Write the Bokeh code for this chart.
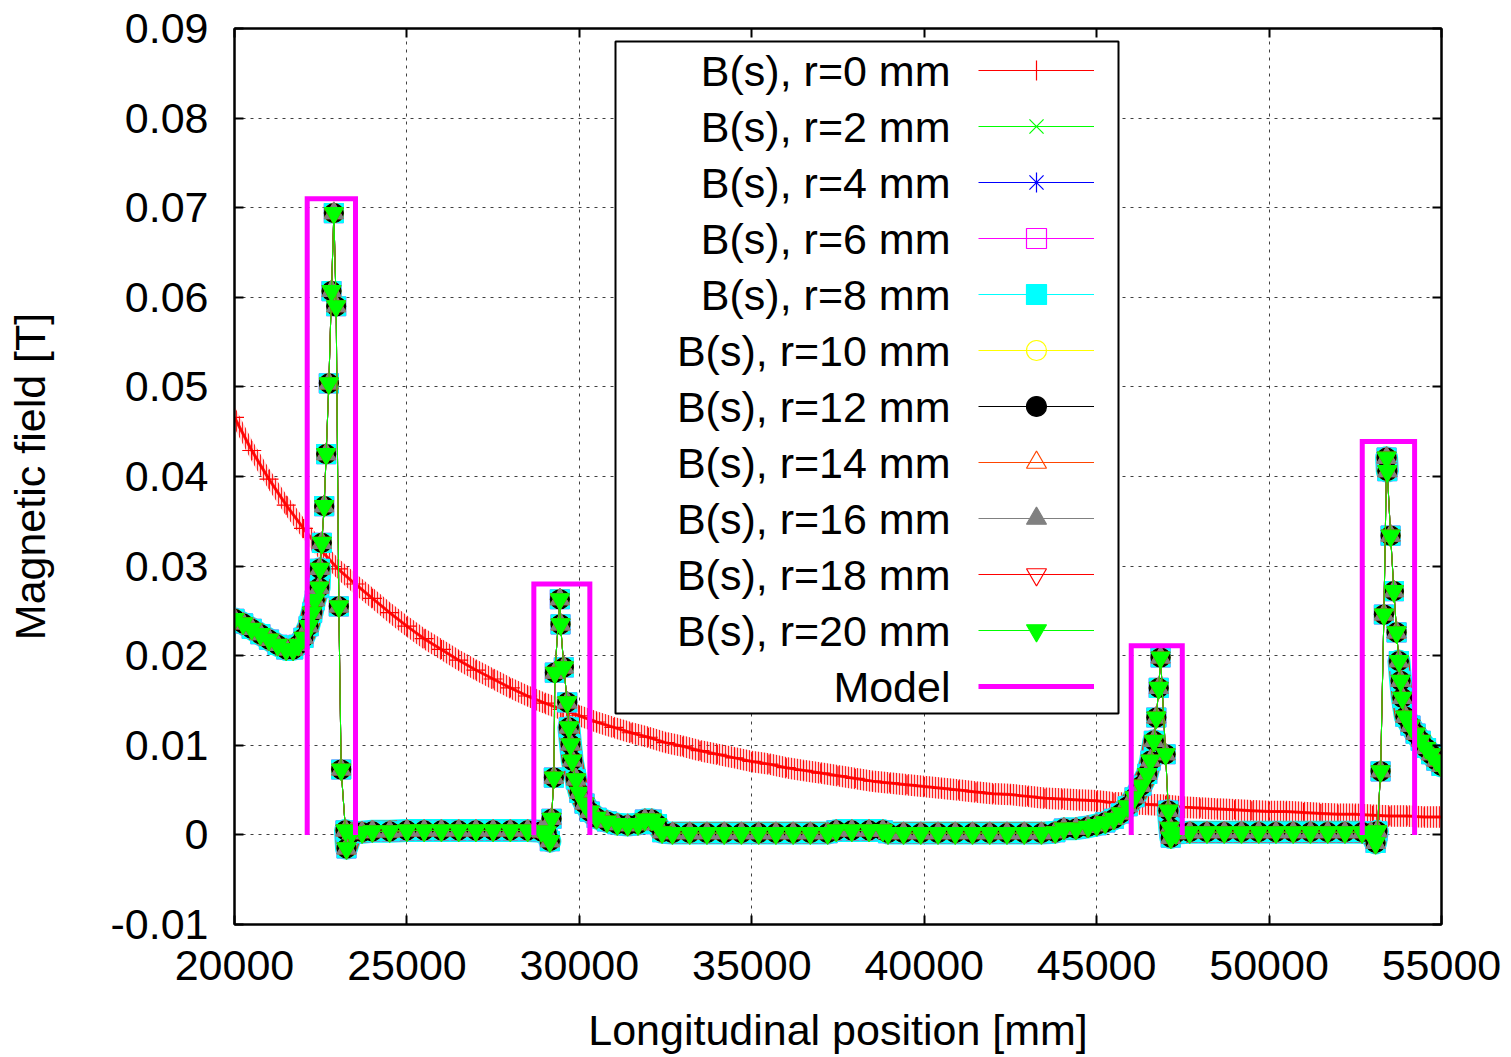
import numpy as np
from bokeh.plotting import figure
from bokeh.models import (Range1d, FixedTicker, CustomJSTickFormatter, LinearAxis,
                          Legend, LegendItem, Label, BoxAnnotation)
from bokeh.embed import file_html
from bokeh.resources import INLINE

# ---------------- data ----------------
x_ticks = [20000, 25000, 30000, 35000, 40000, 45000, 50000, 55000]
y_ticks = [-0.01, 0.0, 0.01, 0.02, 0.03, 0.04, 0.05, 0.06, 0.07, 0.08, 0.09]

radii_mm = [0, 2, 4, 6, 8, 10, 12, 14, 16, 18, 20]

# r = 0 mm : decaying field (sampled every 500 mm)
r0_s = list(range(20000, 55001, 500))
r0_b = [0.0466, 0.0429, 0.0397, 0.0368, 0.0342, 0.0318, 0.0297, 0.0280, 0.0264, 0.0248,
        0.0233, 0.0219, 0.0207, 0.0195, 0.0184, 0.0174, 0.0164, 0.0155, 0.0147, 0.0140,
        0.0133, 0.0126, 0.0120, 0.0114, 0.0109, 0.0103, 0.0099, 0.0094, 0.0090, 0.0086,
        0.0082, 0.0079, 0.0075, 0.0072, 0.0069, 0.0066, 0.0063, 0.0060, 0.0058, 0.0056,
        0.0054, 0.0052, 0.0050, 0.0048, 0.0046, 0.0045, 0.0043, 0.0041, 0.0040, 0.0039,
        0.0038, 0.0036, 0.0035, 0.0034, 0.0033, 0.0031, 0.0030, 0.0029, 0.0028, 0.0027,
        0.0026, 0.0026, 0.0025, 0.0024, 0.0023, 0.0023, 0.0022, 0.0021, 0.0021, 0.0020,
        0.0020]

# r = 2 ... 20 mm : measured profile (all radii practically coincide)
field_s = [20000, 20250, 20500, 20750, 21000, 21250, 21500, 21700, 21850, 22000,
           22150, 22250, 22330,
           22455, 22475, 22533, 22600, 22658, 22736, 22813, 22881, 22948, 23026,
           23093, 23219, 23248,
           23400, 23700, 24000, 24500, 25000, 25500, 26000, 26500, 27000, 27500,
           28000, 28500, 28900, 29050,
           29145, 29193, 29261, 29290, 29435, 29454, 29551, 29648, 29696, 29744, 29793,
           29900, 30000, 30150, 30300, 30500, 30800, 31100, 31400, 31700, 31900,
           32100, 32250, 32400, 32700, 33200, 33700, 34200, 34700, 35200, 35700,
           36200, 36700, 37200, 37450, 37900, 38400, 38800, 38950, 39400, 39900,
           40400, 40900, 41400, 41900, 42400, 42900, 43400, 43800, 44050, 44400,
           44750, 45000, 45250, 45500, 45700, 45900, 46100, 46300, 46467, 46564, 46660,
           46730, 46800, 46854, 47000, 47080, 47120, 47150,
           47300, 47700, 48200, 48700, 49200, 49700, 50200, 50700, 51200, 51700,
           52200, 52700, 52950, 53089, 53138,
           53234, 53330, 53408, 53428, 53524, 53620, 53698, 53765, 53814, 53863,
           53950, 54100, 54250, 54400, 54550, 54700, 54850, 55000]
field_b = [0.0241, 0.0236, 0.0230, 0.0224, 0.0218, 0.0212, 0.0207, 0.0207, 0.0212, 0.0220,
           0.0233, 0.0248, 0.0262,
           0.0276, 0.0297, 0.0326, 0.0367, 0.0425, 0.0504, 0.0607, 0.0694, 0.0590, 0.0255,
           0.0073, 0.0005, -0.0015,
           0.0002, 0.0003, 0.0004, 0.0004, 0.0005, 0.0005, 0.0005, 0.0005, 0.0005, 0.0005,
           0.0005, 0.0005, 0.0004, 0.0003,
           -0.0007, 0.0018, 0.0064, 0.0181, 0.0263, 0.0235, 0.0187, 0.0148, 0.0120, 0.0101, 0.0083,
           0.0062, 0.0047, 0.0035, 0.0026, 0.0019, 0.0015, 0.0012, 0.0011, 0.0012, 0.0017,
           0.0017, 0.0012, 0.0003, 0.0002, 0.0002, 0.0002, 0.0002, 0.0002, 0.0002, 0.0002,
           0.0002, 0.0002, 0.0002, 0.0005, 0.0005, 0.0005, 0.0005, 0.0002, 0.0002, 0.0002,
           0.0002, 0.0002, 0.0002, 0.0002, 0.0002, 0.0002, 0.0002, 0.0003, 0.0007, 0.0007,
           0.0009, 0.0011, 0.0014, 0.0018, 0.0024, 0.0032, 0.0042, 0.0055, 0.0068, 0.0083, 0.0105,
           0.0131, 0.0164, 0.0198, 0.0090, 0.0027, 0.0008, -0.0003,
           0.0002, 0.0003, 0.0003, 0.0003, 0.0003, 0.0003, 0.0003, 0.0003, 0.0003, 0.0003,
           0.0003, 0.0003, 0.0002, -0.0009, 0.0004,
           0.0071, 0.0246, 0.0421, 0.0406, 0.0334, 0.0272, 0.0226, 0.0194, 0.0172, 0.0153,
           0.0132, 0.0122, 0.0113, 0.0105, 0.0097, 0.0090, 0.0083, 0.0077]

# Model: rectangular field regions
model_start = [22108, 28680, 46003, 52702]
model_end = [23509, 30304, 47483, 54220]
model_peak = [0.0710, 0.0280, 0.0211, 0.0439]
model_floor = 0.0

labels = ["B(s), r=%d mm" % r for r in radii_mm] + ["Model"]

# ---------------- styles ----------------
styles = [
    ("#ff0000", "cross", None),
    ("#00ff00", "x", None),
    ("#0000ff", "asterisk", None),
    ("#ff00ff", "square", None),
    ("#00ffff", "square", "#00ffff"),
    ("#ffff00", "circle", None),
    ("#000000", "circle", "#000000"),
    ("#ff4500", "triangle", None),
    ("#808080", "triangle", "#808080"),
    ("#ff0000", "inverted_triangle", None),
    ("#00ff00", "inverted_triangle", "#00ff00"),
]
FONT = "Liberation Sans"
FS = "43px"
MS = 19

p = figure(width=1511, height=1057, x_range=Range1d(20000, 55000), y_range=Range1d(-0.01, 0.09),
           output_backend="svg", toolbar_location=None,
           min_border_left=234, min_border_right=70, min_border_top=28, min_border_bottom=133)
p.background_fill_color = "white"
p.border_fill_color = "white"
p.outline_line_color = "black"
p.outline_line_width = 2

# axes
for ax in (p.xaxis[0], p.yaxis[0]):
    ax.major_label_text_font = FONT
    ax.major_label_text_font_size = FS
    ax.major_label_text_color = "black"
    ax.axis_label_text_font = FONT
    ax.axis_label_text_font_size = FS
    ax.axis_label_text_font_style = "normal"
    ax.axis_label_text_color = "black"
    ax.major_tick_in = 9
    ax.major_tick_out = 0
    ax.minor_tick_line_color = None
    ax.axis_line_width = 2
    ax.major_tick_line_width = 2
p.xaxis[0].ticker = FixedTicker(ticks=x_ticks)
p.yaxis[0].ticker = FixedTicker(ticks=y_ticks)
p.xaxis[0].formatter = CustomJSTickFormatter(code="return tick.toFixed(0);")
p.yaxis[0].formatter = CustomJSTickFormatter(
    code="const v = Math.round(tick*100)/100; return v === 0 ? '0' : String(v);")
p.xaxis[0].axis_label = "Longitudinal position [mm]"
p.yaxis[0].axis_label = "Magnetic field [T]"
p.xaxis[0].major_label_standoff = 26
p.xaxis[0].axis_label_standoff = 23
p.yaxis[0].major_label_standoff = 26
p.yaxis[0].axis_label_standoff = 53

for ticks, place in ((y_ticks, "right"), (x_ticks, "above")):
    mirror = LinearAxis(ticker=FixedTicker(ticks=ticks),
                        formatter=CustomJSTickFormatter(code="return '';"),
                        major_label_text_font_size="0px", major_label_standoff=0,
                        major_tick_in=9, major_tick_out=0, minor_tick_line_color=None,
                        axis_line_width=2, major_tick_line_width=2)
    p.add_layout(mirror, place)

p.xgrid.ticker = FixedTicker(ticks=x_ticks)
p.ygrid.ticker = FixedTicker(ticks=y_ticks)
for g in (p.xgrid, p.ygrid):
    g.grid_line_color = "#404040"
    g.grid_line_dash = "3 5"
    g.grid_line_width = 1

# ---------------- r = 0 series ----------------
band_half = 0.0012
r0_arr = np.array(r0_b)
p.varea(x=r0_s, y1=r0_arr - band_half, y2=r0_arr + band_half,
        fill_color="#ff4040", fill_alpha=0.22,
        hatch_pattern="vertical_line", hatch_color="#ff0000", hatch_alpha=0.85,
        hatch_scale=3, hatch_weight=1)
p.line(r0_s, r0_b, line_color="#ff0000", line_width=3, line_alpha=0.9)

renderers = []
c, m, f = styles[0]
l0 = p.line(r0_s, r0_b, line_color=c, line_width=1)
s0 = p.scatter(r0_s, r0_b, marker=m, size=MS, line_color=c, line_width=1.2)
renderers.append([l0, s0])

# ---------------- dense band of the profile ----------------
bx, by = [], []
run = [(field_s[0], field_b[0])]
def flush(run):
    if len(run) > 1:
        for a, b in run:
            bx.append(a); by.append(b)
        bx.append(np.nan); by.append(np.nan)
for i in range(1, len(field_s)):
    if abs(field_b[i] - field_b[i - 1]) < 0.0024 and field_s[i] - field_s[i - 1] < 600:
        run.append((field_s[i], field_b[i]))
    else:
        flush(run)
        run = [(field_s[i], field_b[i])]
flush(run)
bx = np.array(bx, dtype=float); by = np.array(by, dtype=float)
for col, w in (("#00ffff", 23), ("#d84000", 21), ("#808080", 19), ("#00ff00", 15)):
    p.line(bx, by, line_color=col, line_width=w, line_cap="round", line_join="round")

# ---------------- r = 2 ... 20 series ----------------
for k in range(1, len(radii_mm)):
    c, m, f = styles[k]
    lr = p.line(field_s, field_b, line_color=c, line_width=1)
    sr = p.scatter(field_s, field_b, marker=m, size=MS, line_color=c,
                   fill_color=f, fill_alpha=1.0 if f else 0.0, line_width=1.2)
    renderers.append([lr, sr])

# ---------------- model ----------------
mx, my = [], []
for a, b, h in zip(model_start, model_end, model_peak):
    mx += [a, a, b, b, np.nan]
    my += [model_floor, h, h, model_floor, np.nan]
lm = p.line(np.array(mx, dtype=float), np.array(my, dtype=float),
            line_color="#ff00ff", line_width=5, line_join="miter")
renderers.append([lm])

# ---------------- legend ----------------
box = BoxAnnotation(left=381, right=884, bottom=211, top=883,
                    left_units="screen", right_units="screen",
                    bottom_units="screen", top_units="screen",
                    fill_color="white", fill_alpha=1.0,
                    line_color="black", line_width=2, line_alpha=1.0)
p.add_layout(box)

items = [LegendItem(label=" ", renderers=r) for r in renderers]
legend = Legend(items=items, location=(744, 213), orientation="vertical",
                glyph_width=116, glyph_height=50, spacing=6, padding=0, margin=0,
                label_width=0, label_height=0, label_standoff=0,
                label_text_font_size="1px",
                border_line_alpha=0, background_fill_alpha=0)
p.add_layout(legend)

for i, t in enumerate(labels):
    p.add_layout(Label(x=716, y=854 - 56 * i, x_units="screen", y_units="screen",
                       text=t, text_align="right", text_baseline="middle",
                       text_font=FONT, text_font_size=FS, text_color="black"))

open("out.html", "w").write(file_html(p, INLINE))
